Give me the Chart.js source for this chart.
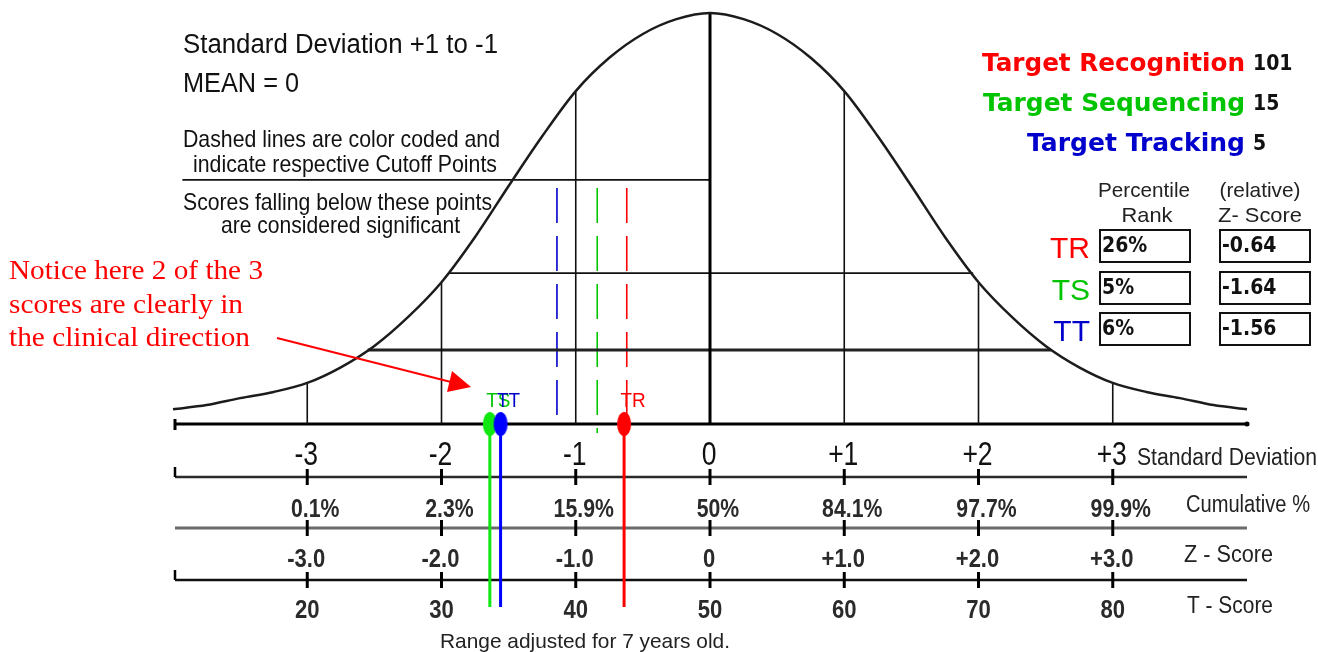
<!DOCTYPE html>
<html lang="en">
  <head>
    <meta charset="UTF-8" />
    <title>Standard Deviation +1 to -1</title>
    <style>
      html,
      body {
        margin: 0;
        padding: 0;
        background: #ffffff;
      }
      #wrap {
        position: relative;
        width: 1318px;
        height: 652px;
      }
    </style>
  </head>
  <body>
    <div id="wrap"><canvas id="bell"></canvas></div>

    <script src="https://cdn.jsdelivr.net/npm/chart.js"></script>
    <script>
      // bell curve, height in % of the peak
      const sdGrid = [
        -4, -3.75, -3.5, -3.25, -3, -2.75, -2.5, -2.25, -2, -1.75, -1.5, -1.25, -1, -0.75, -0.5, -0.25, 0,
        0.25, 0.5, 0.75, 1, 1.25, 1.5, 1.75, 2, 2.25, 2.5, 2.75, 3, 3.25, 3.5, 3.75, 4,
      ];
      const curveHeight = [
        3.6, 4.6, 6.3, 7.8, 10.0, 13.8, 19.0, 26.0, 34.5, 45.5, 57.9, 70.0, 81.0, 89.1, 94.9, 98.5, 100,
        98.5, 94.9, 89.1, 81.0, 70.0, 57.9, 45.5, 34.5, 26.0, 19.0, 13.8, 10.0, 7.8, 6.3, 4.6, 3.6,
      ];

      // horizontal guide lines inside the curve
      const guideFrom = [-3.93, -1.94, -2.55];
      const guideTo = [0, 1.96, 2.54];
      const guideLevel = [59.4, 36.7, 18.0];

      // axis rows under the curve
      const sdTicks = [-3, -2, -1, 0, 1, 2, 3];
      const sdLabels = ["-3", "-2", "-1", "0", "+1", "+2", "+3"];
      const cumLabels = ["0.1%", "2.3%", "15.9%", "50%", "84.1%", "97.7%", "99.9%"];
      const zLabels = ["-3.0", "-2.0", "-1.0", "0", "+1.0", "+2.0", "+3.0"];
      const tLabels = ["20", "30", "40", "50", "60", "70", "80"];

      // the three measures
      const measures = ["TR", "TS", "TT"];
      const measureNames = ["Target Recognition", "Target Sequencing", "Target Tracking"];
      const rawScores = ["101", "15", "5"];
      const percentileRank = ["26%", "5%", "6%"];
      const zScores = [-0.64, -1.64, -1.56];
      const cutoffSd = [-0.62, -0.84, -1.14];
      const cutoffTop = 57.4;
      const cutoffBottom = [0, -2.2, 0];
      const textColors = ["#ff0000", "#00c400", "#0000cc"];
      const markerColors = ["#ff0000", "#11e811", "#0000ff"];

      const heightAt = (sd) => curveHeight[sdGrid.indexOf(sd)];

      // drop lines from curve to the baseline at each whole SD
      const dropData = [];
      sdTicks
        .filter((t) => t !== 0)
        .forEach((t) => {
          dropData.push({ x: t, y: 0 }, { x: t, y: heightAt(t) }, { x: t, y: null });
        });

      function ovalImage(color) {
        const c = document.createElement("canvas");
        c.width = 16;
        c.height = 26;
        const g = c.getContext("2d");
        g.fillStyle = color;
        g.beginPath();
        g.ellipse(8, 13, 7, 12, 0, 0, Math.PI * 2);
        g.fill();
        return c;
      }
      const ovals = markerColors.map(ovalImage);

      function drawText(ctx, text, x, y, o) {
        ctx.save();
        ctx.font = o.font;
        ctx.fillStyle = o.color || "#000";
        ctx.textAlign = "left";
        ctx.textBaseline = "alphabetic";
        const w = ctx.measureText(text).width;
        const sx = o.fit ? o.fit / w : o.squeeze || 1;
        const drawn = w * sx;
        let left = x;
        if (o.align === "center") left = x - drawn / 2;
        if (o.align === "right") left = x - drawn;
        ctx.translate(left, y);
        ctx.scale(sx, 1);
        ctx.fillText(text, 0, 0);
        ctx.restore();
      }

      function line(ctx, x1, y1, x2, y2, color, width) {
        ctx.save();
        ctx.strokeStyle = color;
        ctx.lineWidth = width;
        ctx.beginPath();
        ctx.moveTo(x1, y1);
        ctx.lineTo(x2, y2);
        ctx.stroke();
        ctx.restore();
      }

      const SANS = "Liberation Sans";

      const tablePlugin = {
        id: "tablePlugin",
        beforeDatasetsDraw(chart) {
          const { ctx, chartArea, scales } = chart;
          const x = scales.x;
          const base = chartArea.bottom;
          const left = x.getPixelForValue(-4) + 2;
          const right = x.getPixelForValue(4);

          // main axis
          line(ctx, left, base, right, base, "#000", 3);
          line(ctx, left, base - 5, left, base + 6, "#000", 3);
          ctx.fillStyle = "#000";
          ctx.beginPath();
          ctx.arc(right, base, 2.5, 0, Math.PI * 2);
          ctx.fill();

          // rows with ticks
          const rows = [
            { dy: 53, color: "#2a2a2a", width: 2.5, cap: true },
            { dy: 104, color: "#6a6a6a", width: 3, cap: false },
            { dy: 156, color: "#111", width: 2.5, cap: true },
          ];
          rows.forEach((r) => {
            const y = base + r.dy;
            line(ctx, left, y, right, y, r.color, r.width);
            if (r.cap) line(ctx, left, y - 10, left, y, "#000", 2.5);
            sdTicks.forEach((t) => {
              const px = x.getPixelForValue(t);
              line(ctx, px, y - 8, px, y + 8, "#000", 3);
            });
          });

          // score stems reaching down through the table
          zScores.forEach((z, i) => {
            const px = x.getPixelForValue(z);
            line(ctx, px, base, px, base + 183, markerColors[i], 3);
          });
        },
        afterDatasetsDraw(chart) {
          const { ctx, chartArea, scales } = chart;
          const x = scales.x;
          const base = chartArea.bottom;

          // labels over the markers
          zScores.forEach((z, i) => {
            const px = x.getPixelForValue(z);
            drawText(ctx, measures[i], px - 3.5, base - 17, {
              font: `21px ${SANS}`,
              color: textColors[i],
              squeeze: 0.9,
            });
          });

          // row labels
          sdTicks.forEach((t, i) => {
            const px = x.getPixelForValue(t);
            drawText(ctx, sdLabels[i], px - 1, base + 41, { font: `34px ${SANS}`, align: "center", squeeze: 0.78, color: "#111" });
            drawText(ctx, cumLabels[i], px + 8, base + 93, { font: `bold 25px ${SANS}`, align: "center", squeeze: 0.85, color: "#2a2a2a" });
            drawText(ctx, zLabels[i], px - 1, base + 143, { font: `bold 25px ${SANS}`, align: "center", squeeze: 0.88, color: "#2a2a2a" });
            drawText(ctx, tLabels[i], px, base + 194, { font: `bold 26px ${SANS}`, align: "center", squeeze: 0.85, color: "#2a2a2a" });
          });
          drawText(ctx, "Standard Deviation", 1137, base + 41, { font: `23px ${SANS}`, fit: 180, color: "#222" });
          drawText(ctx, "Cumulative %", 1186, base + 88, { font: `23px ${SANS}`, fit: 124, color: "#222" });
          drawText(ctx, "Z - Score", 1184, base + 138, { font: `23px ${SANS}`, fit: 89, color: "#222" });
          drawText(ctx, "T - Score", 1187, base + 189, { font: `23px ${SANS}`, fit: 86, color: "#222" });
          drawText(ctx, "Range adjusted for 7 years old.", 440, base + 224, { font: `21px ${SANS}`, fit: 290, color: "#222" });

          // notes top left
          const note = { font: `24px ${SANS}`, color: "#111" };
          drawText(ctx, "Standard Deviation +1 to -1", 183, 53, { ...note, font: `27px ${SANS}`, fit: 315 });
          drawText(ctx, "MEAN = 0", 183, 92, { ...note, font: `27px ${SANS}`, fit: 116 });
          drawText(ctx, "Dashed lines are color coded and", 183, 147, { ...note, fit: 317 });
          drawText(ctx, "indicate respective Cutoff Points", 193, 172, { ...note, fit: 304 });
          drawText(ctx, "Scores falling below these points", 183, 210, { ...note, fit: 309 });
          drawText(ctx, "are considered significant", 221, 233, { ...note, fit: 239 });

          // red remark with arrow
          const serif = { font: "27px 'Liberation Serif'", color: "#ff0000" };
          drawText(ctx, "Notice here 2 of the 3", 9, 279, { ...serif, fit: 254 });
          drawText(ctx, "scores are clearly in", 9, 313, { ...serif, fit: 234 });
          drawText(ctx, "the clinical direction", 9, 346, { ...serif, fit: 241 });
          line(ctx, 277, 338, 455, 383, "#ff0000", 2);
          ctx.save();
          ctx.fillStyle = "#ff0000";
          ctx.beginPath();
          ctx.moveTo(471, 387);
          ctx.lineTo(452, 371);
          ctx.lineTo(447, 392);
          ctx.closePath();
          ctx.fill();
          ctx.restore();

          // legend of the measures, top right
          measureNames.forEach((name, i) => {
            const y = 71 + i * 40;
            drawText(ctx, name, 1245, y, {
              font: `bold 25px 'DejaVu Sans'`,
              color: textColors[i],
              align: "right",
              fit: [263, 262, 218][i],
            });
            drawText(ctx, rawScores[i], 1253, y - 1, { font: `bold 21px 'DejaVu Sans'`, color: "#111", squeeze: 0.9 });
          });

          // score table
          const head = { font: `21px ${SANS}`, color: "#222", align: "center" };
          drawText(ctx, "Percentile", 1144, 197, { ...head, fit: 92 });
          drawText(ctx, "Rank", 1147, 222, { ...head, fit: 51 });
          drawText(ctx, "(relative)", 1260, 197, { ...head, fit: 81 });
          drawText(ctx, "Z- Score", 1260, 222, { ...head, fit: 84 });

          const rowTop = [229, 271, 312];
          measures.forEach((m, i) => {
            const top = rowTop[i];
            drawText(ctx, m, 1090, top + 29, { font: `30px ${SANS}`, color: textColors[i], align: "right" });
            ctx.save();
            ctx.strokeStyle = "#111";
            ctx.lineWidth = 2;
            ctx.strokeRect(1100, top + 1, 90, 32);
            ctx.strokeRect(1220, top + 1, 90, 32);
            ctx.restore();
            const cell = { font: `bold 21px 'DejaVu Sans'`, color: "#111", squeeze: 0.9 };
            drawText(ctx, percentileRank[i], 1102, top + 23, cell);
            drawText(ctx, zScores[i].toFixed(2), 1222, top + 23, cell);
          });
        },
      };

      const datasets = [
        {
          label: "Scores",
          data: zScores.map((z) => ({ x: z, y: 0 })),
          showLine: false,
          pointStyle: (c) => ovals[c.dataIndex],
          pointRadius: 10,
        },
        {
          label: "Bell curve",
          data: sdGrid.map((sd, i) => ({ x: sd, y: curveHeight[i] })),
          showLine: true,
          borderColor: "#1c1c1c",
          borderWidth: 2.5,
          pointRadius: 0,
          cubicInterpolationMode: "monotone",
        },
        {
          label: "Mean",
          data: [
            { x: 0, y: 0 },
            { x: 0, y: heightAt(0) },
          ],
          showLine: true,
          borderColor: "#000",
          borderWidth: 3,
          pointRadius: 0,
        },
        {
          label: "SD lines",
          data: dropData,
          showLine: true,
          spanGaps: false,
          borderColor: "#111",
          borderWidth: 1.6,
          pointRadius: 0,
        },
      ];

      guideLevel.forEach((lvl, i) => {
        datasets.push({
          label: "Guide " + (i + 1),
          data: [
            { x: guideFrom[i], y: lvl },
            { x: guideTo[i], y: lvl },
          ],
          showLine: true,
          borderColor: i === 2 ? "#222" : "#111",
          borderWidth: i === 2 ? 2.8 : 1.6,
          pointRadius: 0,
        });
      });

      cutoffSd.forEach((sd, i) => {
        datasets.push({
          label: measures[i] + " cutoff",
          data: [
            { x: sd, y: cutoffTop },
            { x: sd, y: cutoffBottom[i] },
          ],
          showLine: true,
          borderColor: textColors[i],
          borderWidth: 1.6,
          borderDash: [35, 13],
          pointRadius: 0,
        });
      });

      datasets.forEach((d) => (d.clip = false));

      new Chart(document.getElementById("bell"), {
        type: "scatter",
        data: { datasets },
        options: {
          animation: false,
          responsive: true,
          maintainAspectRatio: false,
          layout: { padding: { left: 173, right: 71, top: 13, bottom: 228 } },
          scales: {
            x: { type: "linear", min: -4, max: 4, display: false },
            y: { type: "linear", min: 0, max: 100, display: false },
          },
          plugins: {
            legend: { display: false },
            tooltip: { enabled: false },
          },
        },
        plugins: [tablePlugin],
      });
    </script>
  </body>
</html>
